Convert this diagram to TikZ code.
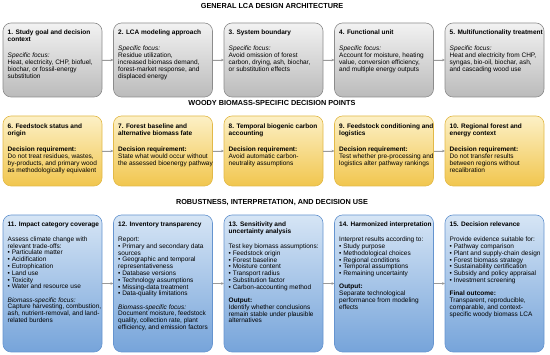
\documentclass[tikz,border=0pt]{standalone}
\usepackage{fontspec}
\setmainfont{Liberation Sans}
\usepackage{tikz}
\usetikzlibrary{arrows.meta, positioning}

\definecolor{grayTop}{HTML}{F2F2F2}
\definecolor{grayBot}{HTML}{BBBBBB}
\definecolor{grayLine}{HTML}{8C8C8C}
\definecolor{yelTop}{HTML}{FCF0C6}
\definecolor{yelBot}{HTML}{F1C64E}
\definecolor{yelLine}{HTML}{E2B948}
\definecolor{bluTop}{HTML}{D6E5F5}
\definecolor{bluBot}{HTML}{76A4DA}
\definecolor{bluLine}{HTML}{6594CF}
\definecolor{arrGray}{HTML}{9A9A9A}

\begin{document}
\begin{tikzpicture}[
    x=1pt, y=-1pt,
    block/.style={rectangle, draw, rounded corners=8pt, minimum width=99pt, anchor=north west, inner sep=0pt, outer sep=0pt, line width=0.6pt},
    grayblock/.style={block, minimum height=74pt, top color=grayTop, bottom color=grayBot, draw=grayLine},
    yelblock/.style={block, minimum height=70pt, top color=yelTop, bottom color=yelBot, draw=yelLine},
    blublock/.style={block, minimum height=137pt, top color=bluTop, bottom color=bluBot, draw=bluLine},
    boxtext/.style={anchor=north west, align=left, inner sep=0pt, font=\fontsize{6.5}{6.8}\selectfont},
    toptext/.style={boxtext, font=\fontsize{6.5}{7.0}\selectfont},
    heading/.style={font=\fontsize{7.3}{8}\selectfont\bfseries},
    flow/.style={-{Stealth[length=3pt, width=2.6pt]}, draw=arrGray, fill=arrGray, line width=0.5pt}
]
\useasboundingbox (0,0) rectangle (550,355);

% Section titles
\node[heading] (h1) at (272,6) {GENERAL LCA DESIGN ARCHITECTURE};
\node[heading] (h2) at (272,103) {WOODY BIOMASS-SPECIFIC DECISION POINTS};
\node[heading] (h3) at (272,203) {ROBUSTNESS, INTERPRETATION, AND DECISION USE};

% Row 1 - general design
\node[grayblock] (b1) at (3,23) {};
\node[grayblock] (b2) at (113.5,23) {};
\node[grayblock] (b3) at (224,23) {};
\node[grayblock] (b4) at (334.5,23) {};
\node[grayblock] (b5) at (445,23) {};

\node[toptext] (t1) at ([shift={(4.5pt,-6.5pt)}]b1.north west) {\textbf{1. Study goal and decision}\\\textbf{context}\\[9pt]\textit{Specific focus:}\\Heat, electricity, CHP, biofuel,\\biochar, or fossil-energy\\substitution};
\node[toptext] (t2) at ([shift={(4.5pt,-6.5pt)}]b2.north west) {\textbf{2. LCA modeling approach}\\[9pt]\textit{Specific focus:}\\Residue utilization,\\increased biomass demand,\\forest-market response, and\\displaced energy};
\node[toptext] (t3) at ([shift={(4.5pt,-6.5pt)}]b3.north west) {\textbf{3. System boundary}\\[9pt]\textit{Specific focus:}\\Avoid omission of forest\\carbon, drying, ash, biochar,\\or substitution effects};
\node[toptext] (t4) at ([shift={(4.5pt,-6.5pt)}]b4.north west) {\textbf{4. Functional unit}\\[9pt]\textit{Specific focus:}\\Account for moisture, heating\\value, conversion efficiency,\\and multiple energy outputs};
\node[toptext] (t5) at ([shift={(4.5pt,-6.5pt)}]b5.north west) {\textbf{5. Multifunctionality treatment}\\[9pt]\textit{Specific focus:}\\Heat and electricity from CHP,\\syngas, bio-oil, biochar, ash,\\and cascading wood use};

% Row 2 - woody biomass decision points
\node[yelblock] (b6) at (3,116) {};
\node[yelblock] (b7) at (113.5,116) {};
\node[yelblock] (b8) at (224,116) {};
\node[yelblock] (b9) at (334.5,116) {};
\node[yelblock] (b10) at (445,116) {};

\node[toptext] (t6) at ([shift={(4.5pt,-8pt)}]b6.north west) {\textbf{6. Feedstock status and}\\\textbf{origin}\\[9pt]\textbf{Decision requirement:}\\Do not treat residues, wastes,\\by-products, and primary wood\\as methodologically equivalent};
\node[toptext] (t7) at ([shift={(4.5pt,-8pt)}]b7.north west) {\textbf{7. Forest baseline and}\\\textbf{alternative biomass fate}\\[9pt]\textbf{Decision requirement:}\\State what would occur without\\the assessed bioenergy pathway};
\node[toptext] (t8) at ([shift={(4.5pt,-8pt)}]b8.north west) {\textbf{8. Temporal biogenic carbon}\\\textbf{accounting}\\[9pt]\textbf{Decision requirement:}\\Avoid automatic carbon-\\neutrality assumptions};
\node[toptext] (t9) at ([shift={(4.5pt,-8pt)}]b9.north west) {\textbf{9. Feedstock conditioning and}\\\textbf{logistics}\\[9pt]\textbf{Decision requirement:}\\Test whether pre-processing and\\logistics alter pathway rankings};
\node[toptext] (t10) at ([shift={(4.5pt,-8pt)}]b10.north west) {\textbf{10. Regional forest and}\\\textbf{energy context}\\[9pt]\textbf{Decision requirement:}\\Do not transfer results\\between regions without\\recalibration};

% Row 3 - robustness and use
\node[blublock] (b11) at (3,215) {};
\node[blublock] (b12) at (113.5,215) {};
\node[blublock] (b13) at (224,215) {};
\node[blublock] (b14) at (334.5,215) {};
\node[blublock] (b15) at (445,215) {};

\node[boxtext] (t11) at ([shift={(4.5pt,-6.5pt)}]b11.north west) {\textbf{11. Impact category coverage}\\[8.4pt]Assess climate change with\\relevant trade-offs:\\• Particulate matter\\• Acidification\\• Eutrophication\\• Land use\\• Toxicity\\• Water and resource use\\[6.4pt]\textit{Biomass-specific focus:}\\Capture harvesting, combustion,\\ash, nutrient-removal, and land-\\related burdens};
\node[boxtext] (t12) at ([shift={(4.5pt,-6.5pt)}]b12.north west) {\textbf{12. Inventory transparency}\\[8.4pt]Report:\\• Primary and secondary data\\sources\\• Geographic and temporal\\representativeness\\• Database versions\\• Technology assumptions\\• Missing-data treatment\\• Data-quality limitations\\[6.4pt]\textit{Biomass-specific focus:}\\Document moisture, feedstock\\quality, collection rate, plant\\efficiency, and emission factors};
\node[boxtext] (t13) at ([shift={(4.5pt,-6.5pt)}]b13.north west) {\textbf{13. Sensitivity and}\\\textbf{uncertainty analysis}\\[8.4pt]Test key biomass assumptions:\\• Feedstock origin\\• Forest baseline\\• Moisture content\\• Transport radius\\• Substitution factor\\• Carbon-accounting method\\[6.4pt]\textbf{Output:}\\Identify whether conclusions\\remain stable under plausible\\alternatives};
\node[boxtext] (t14) at ([shift={(4.5pt,-6.5pt)}]b14.north west) {\textbf{14. Harmonized interpretation}\\[8.4pt]Interpret results according to:\\• Study purpose\\• Methodological choices\\• Regional conditions\\• Temporal assumptions\\• Remaining uncertainty\\[6.4pt]\textbf{Output:}\\Separate technological\\performance from modeling\\effects};
\node[boxtext] (t15) at ([shift={(4.5pt,-6.5pt)}]b15.north west) {\textbf{15. Decision relevance}\\[8.4pt]Provide evidence suitable for:\\• Pathway comparison\\• Plant and supply-chain design\\• Forest biomass strategy\\• Sustainability certification\\• Subsidy and policy appraisal\\• Investment screening\\[6.4pt]\textbf{Final outcome:}\\Transparent, reproducible,\\comparable, and context-\\specific woody biomass LCA};

% Connectors within each row
\foreach \a/\b in {b1/b2, b2/b3, b3/b4, b4/b5, b6/b7, b7/b8, b8/b9, b9/b10, b11/b12, b12/b13, b13/b14, b14/b15}
    \draw[flow] (\a.east) -- (\b.west);

\end{tikzpicture}
\end{document}
